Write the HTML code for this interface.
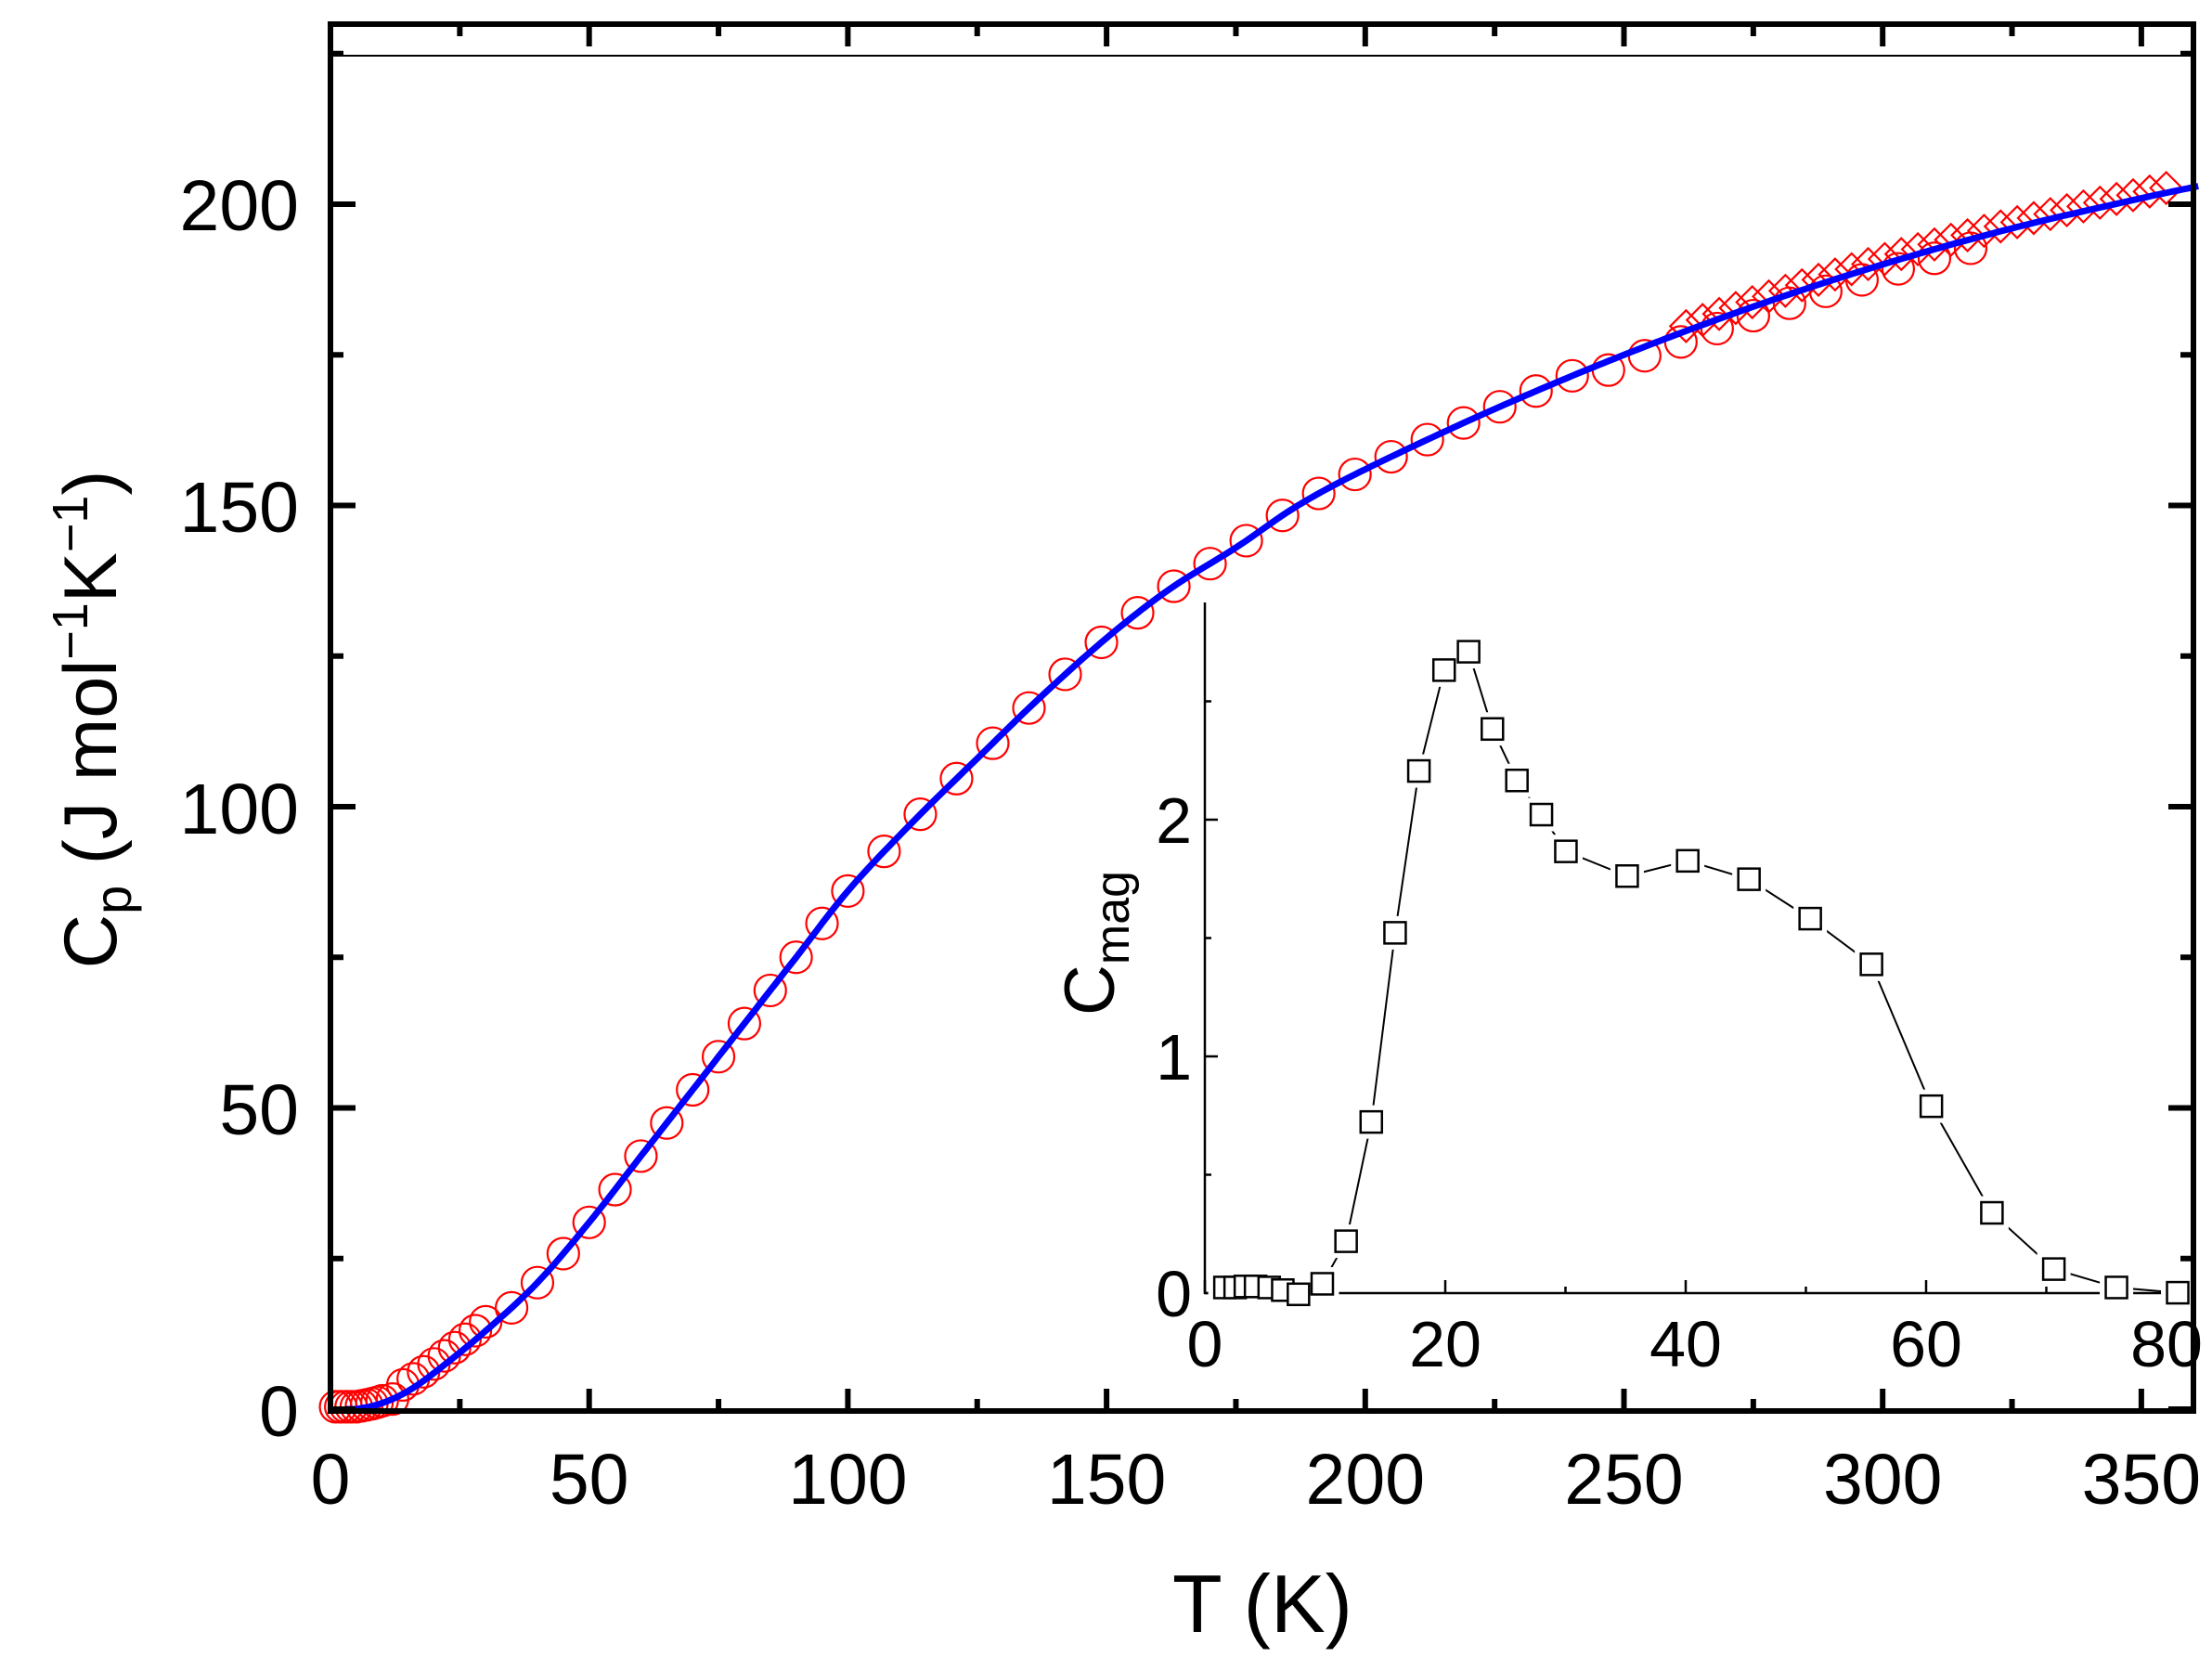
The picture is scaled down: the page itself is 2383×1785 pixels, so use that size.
<!DOCTYPE html>
<html><head><meta charset="utf-8"><style>
html,body{margin:0;padding:0;background:#fff;}
svg{display:block;font-family:"Liberation Sans",Arial,sans-serif;}
</style></head><body>
<svg id="s" width="2383" height="1785" viewBox="0 0 2383 1785" xmlns="http://www.w3.org/2000/svg">
<rect width="2383" height="1785" fill="#fff"/>
<line x1="356" y1="60" x2="2363" y2="60" stroke="#000" stroke-width="2"/>
<g id="main"></g>
<g id="inset"></g>
<rect x="356" y="26" width="2007" height="1494" fill="none" stroke="#000" stroke-width="6"/>
<g id="ticks"></g>
<g font-size="77" text-anchor="end" fill="#000">
<text x="322" y="1547">0</text>
<text x="322" y="1222">50</text>
<text x="322" y="898">100</text>
<text x="322" y="573">150</text>
<text x="322" y="248">200</text>
</g>
<g font-size="77" text-anchor="middle" fill="#000" id="xl"></g>
<text x="1360" y="1758" font-size="88" text-anchor="middle">T (K)</text>
<text transform="translate(125,775) rotate(-90)" font-size="81" text-anchor="middle">C<tspan font-size="56" dy="16">p</tspan><tspan dy="-16"> (J mol</tspan><tspan font-size="54" dy="-31">−1</tspan><tspan dy="31">K</tspan><tspan font-size="54" dy="-31">−1</tspan><tspan dy="31">)</tspan></text>
</svg>
<script>
var NS="http://www.w3.org/2000/svg";
function el(p,t,a){var e=document.createElementNS(NS,t);for(var k in a)e.setAttribute(k,a[k]);p.appendChild(e);return e;}
var X=function(t){return 356+t*5.574;}, Y=function(c){return 1518-c*6.49;};
var pts=[[3,0],[5,0],[10,1],[15,3],[20,6],[30,13],[40,21],[50,31],[60,42],[70,53],[80,64],[90,75],[100,86],[112,97],[125,108],[137,118],[150,128],[162,136],[175,143],[187,150],[200,156],[225,166],[250,175],[275,183],[300,190],[325,196],[350,201],[361,203]];
function f(t){for(var i=0;i<pts.length-1;i++){if(t<=pts[i+1][0]){var a=pts[i],b=pts[i+1];
 var i0=Math.max(0,i-1),i3=Math.min(pts.length-1,i+2);var u=(t-a[0])/(b[0]-a[0]);
 var m1=(b[1]-pts[i0][1])/(b[0]-pts[i0][0])*(b[0]-a[0]),m2=(pts[i3][1]-a[1])/(pts[i3][0]-a[0])*(b[0]-a[0]);
 var h00=2*u*u*u-3*u*u+1,h10=u*u*u-2*u*u+u,h01=-2*u*u*u+3*u*u,h11=u*u*u-u*u;
 return h00*a[1]+h10*m1+h01*b[1]+h11*m2;}}return pts[pts.length-1][1];}
var m=document.getElementById("main");
var ts=[];for(var t=1;t<=10;t+=1)ts.push(t);for(t=12;t<=30;t+=2)ts.push(t);for(t=35;t<=100;t+=5)ts.push(t);for(t=107;t<=320;t+=7)ts.push(t);
ts.forEach(function(t){var c=f(t);if(t<12)c=Math.max(c,0)+0.4;if(t>=14&&t<=30)c+=1.5;if(t>245)c-=1.5;
 el(m,"circle",{cx:X(t),cy:Y(c),r:17,fill:"none",stroke:"#f00","stroke-width":2.2});});
for(t=262;t<=357;t+=3.2){var c=f(t)+0.8;var x=X(t),y=Y(c);
 el(m,"polygon",{points:(x-17)+","+y+" "+x+","+(y-17)+" "+(x+17)+","+y+" "+x+","+(y+17),fill:"none",stroke:"#f00","stroke-width":2.2});}
var d="";for(t=3;t<=361;t+=1){d+=(t==3?"M":"L")+X(t).toFixed(1)+","+Y(Math.max(0,f(t))).toFixed(1);}
el(m,"path",{d:d,fill:"none",stroke:"#0000ff","stroke-width":7});
var tk=document.getElementById("ticks");
for(t=0;t<=360;t+=25){var L=(t%50==0)?24:13;el(tk,"line",{x1:X(t),y1:1520,x2:X(t),y2:1520-L,stroke:"#000","stroke-width":6});el(tk,"line",{x1:X(t),y1:26,x2:X(t),y2:26+L,stroke:"#000","stroke-width":6});}
for(var c=0;c<=225;c+=25){var L=(c%50==0)?27:14;el(tk,"line",{x1:356,y1:Y(c),x2:356+L,y2:Y(c),stroke:"#000","stroke-width":6});el(tk,"line",{x1:2363,y1:Y(c),x2:2363-L,y2:Y(c),stroke:"#000","stroke-width":6});}
var xl=document.getElementById("xl");
for(t=0;t<=350;t+=50){var e=el(xl,"text",{x:X(t),y:1620});e.textContent=t;}
var g=document.getElementById("inset");
var IX=function(t){return 1298+t*12.95;},IY=function(v){return 1393-v*255;};
el(g,"line",{x1:1298,y1:649,x2:1298,y2:1394,stroke:"#000","stroke-width":2.5});
el(g,"line",{x1:1297,y1:1393,x2:2340,y2:1393,stroke:"#000","stroke-width":2.5});
for(t=0;t<=80;t+=10){var L=(t%20==0)?14:7;el(g,"line",{x1:IX(t),y1:1393,x2:IX(t),y2:1393-L,stroke:"#000","stroke-width":2.5});}
for(var v=0;v<=2.5;v+=0.5){var L=(v%1==0)?14:7;el(g,"line",{x1:1298,y1:IY(v),x2:1298+L,y2:IY(v),stroke:"#000","stroke-width":2.5});}
var zp=[[95,1355],[110,1355],[125,1353],[140,1353],[160,1355],[180,1360],[203,1368],[238,1348],[273,1267],[310,1040],[345,680],[380,372],[417,180],[453,145],[488,292],[524,390],[560,455],[596,525],[686,572],[775,543],[865,578],[955,653],[1045,740],[1133,1010],[1222,1213],[1313,1320],[1405,1355],[1495,1365]];
var P=zp.map(function(p){return [1250+p[0]/1.364,620+p[1]*0.566];});
el(g,"polyline",{points:P.map(function(p){return p.join(",")}).join(" "),fill:"none",stroke:"#000","stroke-width":2});
P.forEach(function(p){el(g,"rect",{x:p[0]-18,y:p[1]-18,width:36,height:36,fill:"#fff"});});
P.forEach(function(p){el(g,"rect",{x:p[0]-11.5,y:p[1]-11.5,width:23,height:23,fill:"#fff",stroke:"#000","stroke-width":2.5});});
[0,20,40,60,80].forEach(function(a){var e=el(g,"text",{x:IX(a),y:1472,"font-size":70,"text-anchor":"middle"});e.textContent=a;});
[0,1,2].forEach(function(a){var e=el(g,"text",{x:1284,y:IY(a)+25,"font-size":70,"text-anchor":"end"});e.textContent=a;});
var tt=el(g,"text",{transform:"translate(1200,1016) rotate(-90)","font-size":76,"text-anchor":"middle"});
tt.innerHTML='C<tspan font-size="52" dy="16">mag</tspan>';
</script>
</body></html>
